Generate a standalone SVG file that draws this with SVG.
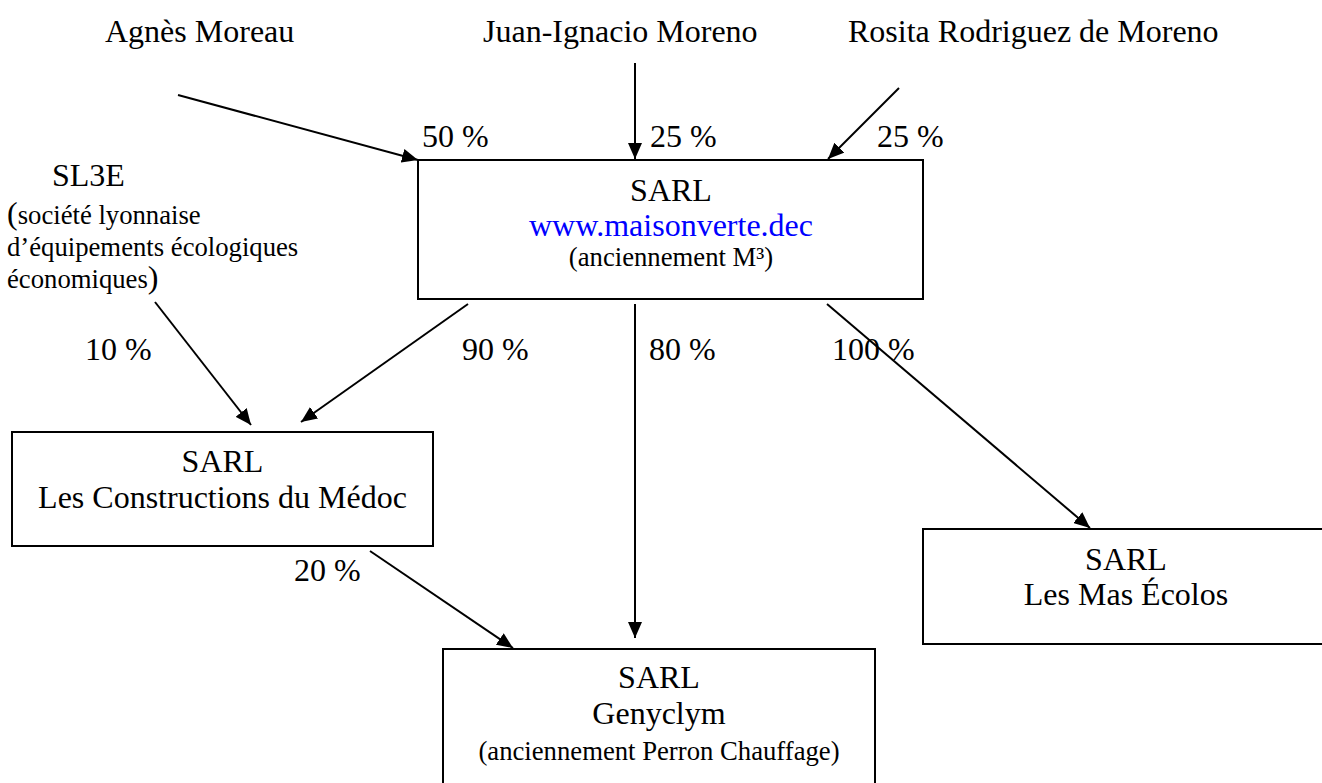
<svg xmlns="http://www.w3.org/2000/svg" width="1322" height="783" viewBox="0 0 1322 783">
<style>
text{font-family:"Liberation Serif","Times New Roman",serif;fill:#000}
.b{font-size:32px}
.s{font-size:26.7px}
.m{text-anchor:middle}
.box{fill:#fff;stroke:#000;stroke-width:2}
.ln{stroke:#000;stroke-width:2;fill:none;marker-end:url(#ah)}
</style>
<defs>
<marker id="ah" markerUnits="userSpaceOnUse" markerWidth="17" markerHeight="14" refX="16" refY="7" orient="auto">
<path d="M0,0 L16,7 L0,14 z" fill="#000"/>
</marker>
</defs>
<rect width="1322" height="783" fill="#fff"/>
<g id="connectors">
<line class="ln" x1="178" y1="95" x2="418" y2="160"/>
<line class="ln" x1="635" y1="63" x2="635" y2="159"/>
<line class="ln" x1="899" y1="88" x2="828" y2="159"/>
<line class="ln" x1="155" y1="302" x2="251" y2="425"/>
<line class="ln" x1="468" y1="304" x2="301" y2="422"/>
<line class="ln" x1="635" y1="304" x2="635" y2="638"/>
<line class="ln" x1="370" y1="551" x2="513" y2="648"/>
<line class="ln" x1="827" y1="304" x2="1090" y2="528"/>
</g>
<g id="owners">
<text class="b" x="105" y="42">Agnès Moreau</text>
<text class="b" x="483" y="42">Juan-Ignacio Moreno</text>
<text class="b" x="848" y="42">Rosita Rodriguez de Moreno</text>
</g>
<g id="sl3e">
<text class="b" x="52" y="186">SL3E</text>
<text x="7" y="224"><tspan class="b">(</tspan><tspan class="s">société lyonnaise</tspan></text>
<text class="s" x="7" y="256">d’équipements écologiques</text>
<text x="7" y="288"><tspan class="s">économiques</tspan><tspan class="b">)</tspan></text>
</g>
<g id="labels">
<text class="b" x="422" y="147">50 %</text>
<text class="b" x="650" y="147">25 %</text>
<text class="b" x="877" y="147">25 %</text>
<text class="b" x="85" y="360">10 %</text>
<text class="b" x="462" y="360">90 %</text>
<text class="b" x="649" y="360">80 %</text>
<text class="b" x="832" y="360">100 %</text>
<text class="b" x="294" y="581">20 %</text>
</g>
<g id="maisonverte">
<rect class="box" x="418" y="160" width="505" height="139"/>
<text class="b m" x="671" y="201">SARL</text>
<text class="b m" x="671" y="236" style="fill:#0000FF">www.maisonverte.dec</text>
<text class="s m" x="671" y="266">(anciennement M³)</text>
</g>
<g id="medoc">
<rect class="box" x="12" y="432" width="421" height="114"/>
<text class="b m" x="222.5" y="472">SARL</text>
<text class="b m" x="222.5" y="508">Les Constructions du Médoc</text>
</g>
<g id="genyclym">
<rect class="box" x="443" y="649" width="432" height="140"/>
<text class="b m" x="659" y="688">SARL</text>
<text class="b m" x="659" y="724">Genyclym</text>
<text class="s m" x="659" y="760">(anciennement Perron Chauffage)</text>
</g>
<g id="masecolos">
<rect class="box" x="923" y="529" width="410" height="115"/>
<text class="b m" x="1126" y="570">SARL</text>
<text class="b m" x="1126" y="605">Les Mas Écolos</text>
</g>
</svg>
